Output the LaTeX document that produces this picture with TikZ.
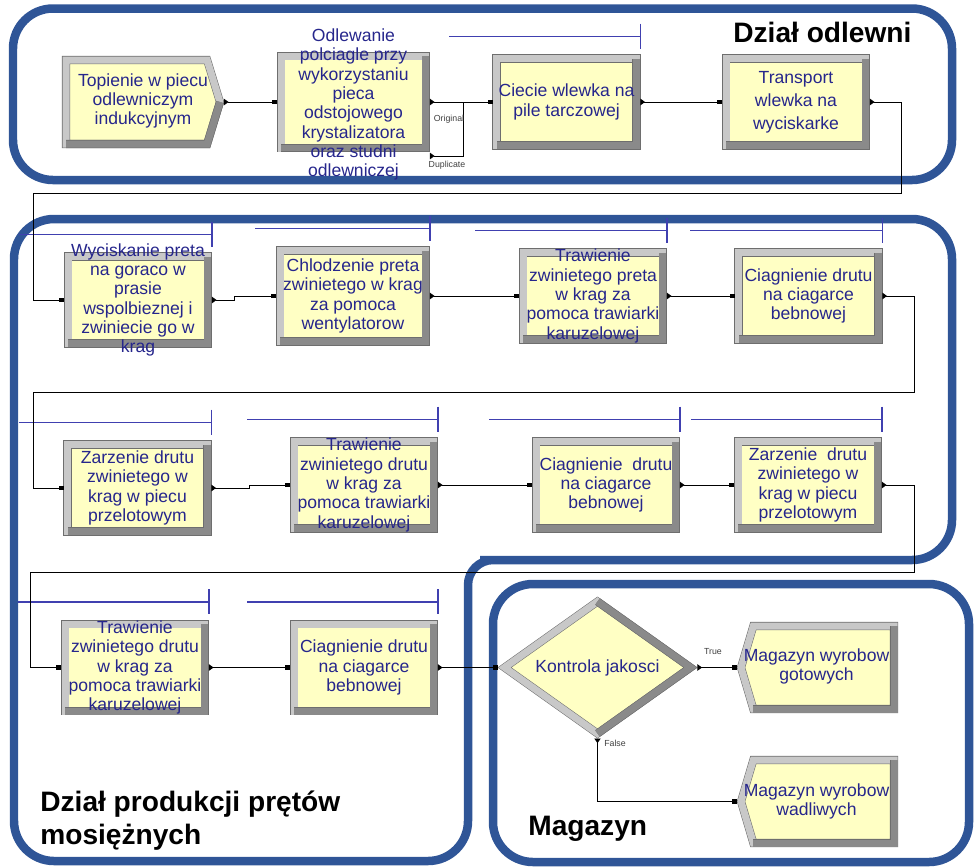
\documentclass[tikz,border=0pt]{standalone}
\usepackage{fontspec}
\setmainfont{Liberation Sans}
\usetikzlibrary{arrows.meta,positioning,calc,shapes.geometric,shapes.symbols}
\definecolor{regionblue}{RGB}{47,85,151}
\definecolor{boxyellow}{RGB}{255,255,196}
\definecolor{textblue}{RGB}{38,38,140}
\definecolor{queueblue}{RGB}{64,64,176}
\definecolor{bevlight}{RGB}{200,200,200}
\definecolor{bevdarkc}{RGB}{138,138,138}
\definecolor{bevedge}{RGB}{110,110,110}
\tikzset{
  bev/.style={draw=bevedge,line width=0.3pt,double=bevlight,double distance=0.14cm,fill=boxyellow,outer sep=0pt},
  proc/.style={bev,rectangle,minimum width=2.8cm,minimum height=1.74cm,outer sep=0.08cm},
  bevdark/.style={draw=bevedge,line width=0.3pt,double=bevdarkc,double distance=0.14cm},
  txt/.style={text=textblue,align=center,font=\fontsize{10}{11}\selectfont,inner sep=0pt},
  queue/.style={draw=queueblue,line width=0.6pt},
  conn/.style={line width=0.5pt,{Triangle[length=2.6pt,width=3.6pt,reversed]}-{Square[length=2.6pt,width=2.6pt]}},
  connout/.style={line width=0.5pt,{Triangle[length=2.6pt,width=3.6pt,reversed]}-},
  region/.style={draw=regionblue,line width=0.17cm,rounded corners=0.8cm},
  title/.style={font=\fontsize{16}{18.7}\selectfont\bfseries,inner sep=0pt},
  tag/.style={font=\fontsize{5}{6}\selectfont,text=black!75,inner sep=0pt}
}
\begin{document}
\begin{tikzpicture}[x=0.02cm,y=-0.02cm]
\useasboundingbox (0,0) rectangle (974,867);

% regions
\draw[region] (13,8.5) rectangle (952,180);
\draw[region] (468,700) -- (468,861) -- (14,861) -- (14,219) -- (952,219) -- (952,560) -- (520,560) [rounded corners=0.5cm] -- (468,560) -- (468,700);
\draw[region] (493,584) rectangle (969,862);

% Dzial odlewni
\node[bev,signal,signal to=east,signal pointer angle=146,minimum width=3.08cm,minimum height=1.68cm,anchor=west] (topienie) at (66,102) {};
\node[proc,minimum width=2.9cm,minimum height=1.84cm] (odlewanie) at (353.5,102) {};
\node[proc] (ciecie) at (566.5,102) {};
\node[proc] (transport) at (796,102) {};

% Dzial produkcji
\node[proc] (wycisk) at (138,300) {};
\node[proc,minimum width=2.92cm,minimum height=1.82cm] (chlodz) at (353,296) {};
\node[proc] (trawp) at (593,296) {};
\node[proc] (ciag1) at (808.5,296) {};
\node[proc] (zarz1) at (137.5,488) {};
\node[proc] (trawd1) at (364,485) {};
\node[proc] (ciag2) at (606,485) {};
\node[proc] (zarz2) at (808,485) {};
\node[proc] (trawd2) at (135,667.5) {};
\node[proc] (ciag3) at (364,667.5) {};

% Magazyn
\node[bev,diamond,minimum width=3.72cm,minimum height=2.64cm] (kontrola) at (597.5,667.5) {};
\node[bev,signal,signal to=west,signal pointer angle=147,minimum width=3.06cm,minimum height=1.66cm,anchor=east] (gotowe) at (894,667.5) {};
\node[bev,signal,signal to=west,signal pointer angle=147,minimum width=3.06cm,minimum height=1.66cm,anchor=east] (wadliwe) at (894,801.5) {};

% dark side of the frames
\foreach \n in {odlewanie,ciecie,transport,wycisk,chlodz,trawp,ciag1,zarz1,trawd1,ciag2,zarz2,trawd2,ciag3}
  \draw[bevdark] ($(\n.north east)+(-4,4)$) -- ($(\n.south east)+(-4,-4)$) -- ($(\n.south west)+(4,-4)$);
\draw[bevdark] (topienie.east) -- (topienie.south east) -- (topienie.south west);
\draw[bevdark] (kontrola.north) -- (kontrola.east) -- (kontrola.south);
\foreach \n in {gotowe,wadliwe}
  \draw[bevdark] (\n.north east) -- (\n.south east) -- (\n.south west);

% queues
\foreach \n/\len in {ciecie/191,wycisk/193,chlodz/175,trawp/192,ciag1/192,zarz1/192,trawd1/191,ciag2/191,zarz2/191,trawd2/191,ciag3/191}{
  \draw[queue] ($(\n.north east)+(0,-18)$) -- ++(-\len,0);
  \draw[queue] ($(\n.north east)+(0,-31)$) -- ++(0,25);
}

% connectors
\coordinate (dupjoin) at (463,102);
\coordinate (ret1a) at (901,193);
\coordinate (ret1b) at (33,193);
\coordinate (ret2a) at (914,392);
\coordinate (ret2b) at (33,392);
\coordinate (ret3a) at (914,572);
\coordinate (ret3b) at (30,572);
\draw[conn] ([xshift=0.08cm]topienie.east) -- (odlewanie.west);
\draw[conn] (odlewanie.east) -- (ciecie.west);
\draw[connout] ([yshift=-0.08cm]odlewanie.south east) -| (dupjoin);
\draw[conn] (ciecie.east) -- (transport.west);
\draw[conn] (transport.east) -| (ret1a) -- (ret1b) |- (wycisk.west);
\draw[conn] (wycisk.east) -- ++(22,0) |- (chlodz.west);
\draw[conn] (chlodz.east) -- (trawp.west);
\draw[conn] (trawp.east) -- (ciag1.west);
\draw[conn] (ciag1.east) -| (ret2a) -- (ret2b) |- (zarz1.west);
\draw[conn] (zarz1.east) -- ++(38,0) |- (trawd1.west);
\draw[conn] (trawd1.east) -- (ciag2.west);
\draw[conn] (ciag2.east) -- (zarz2.west);
\draw[conn] (zarz2.east) -| (ret3a) -- (ret3b) |- (trawd2.west);
\draw[conn] (trawd2.east) -- (ciag3.west);
\draw[conn] (ciag3.east) -- ([xshift=-0.14cm]kontrola.west);
\draw[conn] ([xshift=0.14cm]kontrola.east) -- ([xshift=-0.08cm]gotowe.west);
\draw[conn] ([yshift=-0.1cm]kontrola.south) |- ([xshift=-0.08cm]wadliwe.west);

% texts
\node[txt] (topienie-t) at (143,101) {Topienie w piecu\\odlewniczym\\indukcyjnym};
\node[txt] (odlewanie-t) at (353.5,104.5) {Odlewanie\\polciagle przy\\wykorzystaniu\\pieca\\odstojowego\\krystalizatora\\oraz studni\\odlewniczej};
\node[txt] (ciecie-t) at (ciecie) {Ciecie wlewka na\\pile tarczowej};
\node[txt] (transport-t) at (transport) {Transport\\[2pt]wlewka na\\[2pt]wyciskarke};
\node[txt] (wycisk-t) at (wycisk) {Wyciskanie preta\\na goraco w\\prasie\\wspolbieznej i\\zwiniecie go w\\krag};
\node[txt] (chlodz-t) at (chlodz) {Chlodzenie preta\\zwinietego w krag\\za pomoca\\wentylatorow};
\node[txt] (trawp-t) at (trawp) {Trawienie\\zwinietego preta\\w krag za\\pomoca trawiarki\\karuzelowej};
\node[txt] (ciag1-t) at (ciag1) {Ciagnienie drutu\\na ciagarce\\bebnowej};
\node[txt] (zarz1-t) at (zarz1) {Zarzenie drutu\\zwinietego w\\krag w piecu\\przelotowym};
\node[txt] (trawd1-t) at (trawd1) {Trawienie\\zwinietego drutu\\w krag za\\pomoca trawiarki\\karuzelowej};
\node[txt] (ciag2-t) at (ciag2) {Ciagnienie\ \ drutu\\na ciagarce\\bebnowej};
\node[txt] (zarz2-t) at (zarz2) {Zarzenie\ \ drutu\\zwinietego w\\krag w piecu\\przelotowym};
\node[txt] (trawd2-t) at (trawd2) {Trawienie\\zwinietego drutu\\w krag za\\pomoca trawiarki\\karuzelowej};
\node[txt] (ciag3-t) at (ciag3) {Ciagnienie drutu\\na ciagarce\\bebnowej};
\node[txt] (kontrola-t) at (kontrola) {Kontrola jakosci};
\node[txt] (gotowe-t) at (816.5,666.5) {Magazyn wyrobow\\gotowych};
\node[txt] (wadliwe-t) at (816.5,801.5) {Magazyn wyrobow\\wadliwych};

% small labels
\node[tag] (original) at (449,119) {Original};
\node[tag] (duplicate) at (447,165) {Duplicate};
\node[tag] (true) at (713,652) {True};
\node[tag] (false) at (615,743) {False};

% titles
\node[title,anchor=base west] (odlewni) at (733,42) {Dział odlewni};
\node[title,anchor=west,align=left] (produkcja) at (40,821) {Dział produkcji prętów\\mosiężnych};
\node[title,anchor=base west] (magazyn) at (528,835) {Magazyn};
\end{tikzpicture}
\end{document}
